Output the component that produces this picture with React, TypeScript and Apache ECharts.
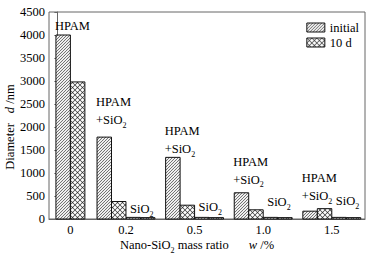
import React, { useEffect, useRef } from 'react';
import * as echarts from 'echarts';

// ---------------- data ----------------
const categories = ['0', '0.2', '0.5', '1.0', '1.5'];
const hpamInitial = [4000, 1780, 1340, 570, 170];
const hpam10d = [2980, 380, 300, 200, 225];
const sio2Initial: (number | null)[] = [null, 35, 35, 35, 35];
const sio210d: (number | null)[] = [null, 30, 30, 30, 30];
const legendNames = ['initial', '10 d'];
const yMin = 0;
const yMax = 4500;
const yStep = 500;

// ---------------- layout / style ----------------
const GROUP_POS = [0.19, 1, 2, 3, 4];
const X_MIN = -0.122;
const X_MAX = 4.484;
const BAR_W = 0.211;
const HPAM_GAP = [9, 17, 8, 13, 15];
const SIO2_GAP = [0, 8, 10, 15, 16];
const FONT = '"Liberation Serif", "Times New Roman", serif';
const FS = 12.5;
const AXIS_COLOR = '#666';

const richStyles = {
  t: { fontSize: FS, fontFamily: FONT, lineHeight: 18, fill: '#000' },
  i: { fontSize: FS, fontFamily: FONT, fontStyle: 'italic', lineHeight: 18, fill: '#000' },
  s: { fontSize: 8, fontFamily: FONT, lineHeight: 10, verticalAlign: 'bottom', fill: '#000' },
  g: { width: 20, lineHeight: 18 },
};

function makePattern(kind: 'hatch' | 'cross') {
  const tile = kind === 'hatch' ? 3 : 5;
  const s = 8;
  const L = tile * s;
  const c = document.createElement('canvas');
  c.width = L;
  c.height = L;
  const ctx = c.getContext('2d')!;
  ctx.fillStyle = '#fff';
  ctx.fillRect(0, 0, L, L);
  ctx.strokeStyle = '#333';
  ctx.lineWidth = (kind === 'hatch' ? 0.6 : 0.7) * s;
  ctx.beginPath();
  for (const o of [-L, 0, L]) {
    ctx.moveTo(o, L);
    ctx.lineTo(o + L, 0);
    if (kind === 'cross') {
      ctx.moveTo(o, 0);
      ctx.lineTo(o + L, L);
    }
  }
  ctx.stroke();
  return { image: c, repeat: 'repeat', imageWidth: tile, imageHeight: tile } as any;
}

function buildData(hpam: number[], sio2: (number | null)[]) {
  const out: number[][] = [];
  hpam.forEach((v, i) => out.push([i, v, 0]));
  sio2.forEach((v, i) => {
    if (v != null) out.push([i, v, 1]);
  });
  return out;
}

export default function App() {
  const ref = useRef<HTMLDivElement>(null);

  useEffect(() => {
    document.body.style.margin = '0';
    if (!ref.current) return;
    const chart = echarts.init(ref.current, undefined, { renderer: 'svg' });
    const hatch = makePattern('hatch');
    const cross = makePattern('cross');
    const patterns = [hatch, cross];

    const makeRender = (seriesSlot: number) => (params: any, api: any) => {
      const gi = api.value(0) as number;
      const v = api.value(1) as number;
      const kind = api.value(2) as number;
      const center = GROUP_POS[gi];
      const w = api.size([BAR_W, 0])[0];
      const [cx, y0] = api.coord([center, 0]);
      const [, y1] = api.coord([center, v]);
      const hasSio2 = sio2Initial[gi] != null;
      const slot = hasSio2 ? (kind === 0 ? -2 : 0) + seriesSlot : -1 + seriesSlot;
      const x = cx + slot * w;
      const children: any[] = [
        {
          type: 'rect',
          shape: { x, y: y1, width: w, height: y0 - y1 },
          style: { fill: patterns[seriesSlot], stroke: '#111', lineWidth: 1 },
        },
      ];
      if (seriesSlot === 0) {
        if (kind === 0) {
          const txt = gi === 0 ? '{t|HPAM}' : '{t|HPAM}\n{t|+SiO}{s|2}';
          children.push({
            type: 'text',
            x: x - 1,
            y: y1 - HPAM_GAP[gi] + 9,
            style: { text: txt, rich: richStyles, align: 'left', verticalAlign: 'bottom', fill: '#000' },
          });
        } else {
          children.push({
            type: 'text',
            x: x + 4,
            y: y1 - SIO2_GAP[gi],
            style: { text: '{t|SiO}{s|2}', rich: richStyles, align: 'left', verticalAlign: 'middle', fill: '#000' },
          });
        }
      }
      return { type: 'group', children };
    };

    const option: any = {
      animation: false,
      backgroundColor: '#fff',
      grid: {
        left: 49,
        top: 12,
        right: 8,
        bottom: 39,
        show: true,
        borderColor: AXIS_COLOR,
        borderWidth: 1,
        backgroundColor: 'transparent',
        outerBoundsMode: 'none',
      },
      legend: {
        data: legendNames,
        orient: 'vertical',
        right: 14,
        top: 21,
        padding: 0,
        itemWidth: 18,
        itemHeight: 9,
        itemGap: 2,
        icon: 'rect',
        itemStyle: { borderColor: '#111', borderWidth: 1 },
        textStyle: { fontFamily: FONT, fontSize: FS, color: '#000' },
        selectedMode: false,
      },
      xAxis: {
        type: 'value',
        min: X_MIN,
        max: X_MAX,
        splitLine: { show: false },
        axisLine: { lineStyle: { color: AXIS_COLOR, width: 1 } },
        axisTick: { show: false },
        axisLabel: {
          customValues: GROUP_POS,
          formatter: (val: number) => {
            const i = GROUP_POS.findIndex((p) => Math.abs(p - val) < 1e-6);
            return i >= 0 ? categories[i] : '';
          },
          fontFamily: FONT,
          fontSize: FS,
          color: '#000',
          margin: 4,
        },
      },
      yAxis: {
        type: 'value',
        min: yMin,
        max: yMax,
        interval: yStep,
        splitLine: { show: false },
        axisLine: { show: true, lineStyle: { color: AXIS_COLOR, width: 1 } },
        axisTick: { show: true, inside: false, length: 3, lineStyle: { color: AXIS_COLOR } },
        axisLabel: {
          fontFamily: FONT,
          fontSize: FS,
          color: '#000',
          margin: 4,
          formatter: (v: number) => String(v),
        },
      },
      graphic: [
        {
          type: 'text',
          x: 10,
          y: 127,
          rotation: Math.PI / 2,
          style: {
            text: '{t|Diameter}{g|}{i|d}{t| /nm}',
            rich: { ...richStyles, g: { width: 10, lineHeight: 18 } },
            align: 'center',
            verticalAlign: 'middle',
          },
        },
        {
          type: 'text',
          x: 197,
          y: 245,
          style: {
            text: '{t|Nano-SiO}{s|2}{t| mass ratio}{g|}{i|w}{t| /%}',
            rich: richStyles,
            align: 'center',
            verticalAlign: 'middle',
          },
        },
      ],
      series: [
        {
          name: legendNames[0],
          type: 'custom',
          data: buildData(hpamInitial, sio2Initial),
          encode: { x: 0, y: 1 },
          renderItem: makeRender(0),
          itemStyle: { color: hatch, borderColor: '#111', borderWidth: 1 },
          silent: true,
        },
        {
          name: legendNames[1],
          type: 'custom',
          data: buildData(hpam10d, sio210d),
          encode: { x: 0, y: 1 },
          renderItem: makeRender(1),
          itemStyle: { color: cross, borderColor: '#111', borderWidth: 1 },
          silent: true,
        },
      ],
    };
    chart.setOption(option);
    return () => chart.dispose();
  }, []);

  return <div ref={ref} style={{ width: 373, height: 258 }} />;
}
